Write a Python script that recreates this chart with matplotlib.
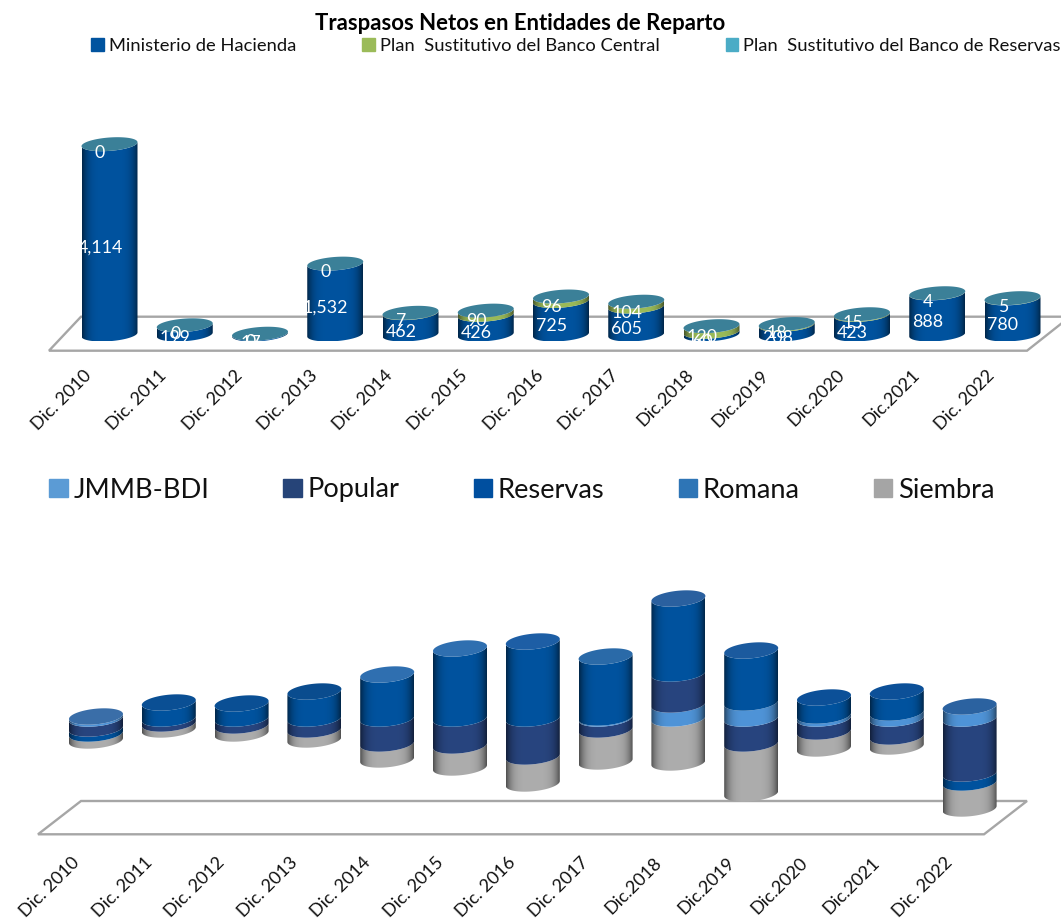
import numpy as np
import matplotlib
matplotlib.use("Agg")
import matplotlib.pyplot as plt
from matplotlib.patches import Polygon, Patch
from matplotlib.colors import to_rgb
from matplotlib.transforms import ScaledTranslation

plt.rcParams['font.family'] = ['Lato', 'DejaVu Sans']

W, H = 1061, 924

years = ["Dic. 2010", "Dic. 2011", "Dic. 2012", "Dic. 2013", "Dic. 2014", "Dic. 2015", "Dic. 2016",
         "Dic. 2017", "Dic.2018", "Dic.2019", "Dic.2020", "Dic.2021", "Dic. 2022"]

# top chart
hacienda = [4114, 199, 17, 1532, 462, 426, 725, 605, 60, 208, 423, 888, 780]
central = [0, 0, 0, 0, 7, 90, 96, 104, 120, 18, 15, 4, 5]
banreservas = [0] * 13

# bottom chart (no labels)
jmmb = [2, 0, 0, 0, 0, 0, 0, 1, 14, 16, 3, 6, 12]
popular = [-10, -5, -7, -11, -25, -27, -38, -11, 31, -25, -13, -18, -55]
reservas = [-5, 16, 15, 27, 44, 70, 77, 61, 75, 52, 18, 21, -9]
romana = [0] * 13
siembra = [-7, -6, -8, -10, -16, -22, -27, -32, -44, -50, -17, -10, -26]

C_BLUE, C_GREEN, C_TEAL = '#00539f', '#9bbb59', '#4bacc6'
C_CAP_TOP = '#3b8098'
C_JMMB, C_POP, C_RES, C_ROM, C_SIE = '#4f94d8', '#28457f', '#00539f', '#2e75b6', '#adadad'
caps_bottom = ['#3a6ea8', '#0a4f94', '#0a4f94', '#0a4c8e', '#2f6fb0', '#2f6fb0', '#1d5ea5',
               '#2a6aa8', '#2a609f', '#1b5a9e', '#0c5098', '#0c5098', '#2b62a0']


def make_axes(top_px, bottom_px, x0_px, step_px, zero_px, px_per_unit):
    ax = fig.add_axes([0, 1 - bottom_px / H, 1, (bottom_px - top_px) / H])
    ax.set_xlim(-x0_px / step_px, (W - x0_px) / step_px)
    ax.set_ylim(-(bottom_px - zero_px) / px_per_unit, (zero_px - top_px) / px_per_unit)
    ax.patch.set_alpha(0)
    for s in ax.spines.values():
        s.set_visible(False)
    ax.set_yticks([])
    ax.tick_params(axis='x', length=0)
    return ax


def floor(ax, top_px, bottom_px, pts):
    # pts in figure pixels
    fr = [(x / W, (bottom_px - y) / (bottom_px - top_px)) for x, y in pts]
    ax.add_patch(Polygon(fr, closed=True, transform=ax.transAxes, facecolor='white',
                         edgecolor='#a6a6a6', lw=1.7, zorder=1, clip_on=False))


def cylinder(ax, i, segs, cap, a_px, b_px, tilt_px, step_px, ppu, z):
    """segs: list of (y0, y1, colour) stacked from the bottom."""
    t = np.linspace(np.pi, 2 * np.pi, 60)
    ax_x = a_px / step_px
    dy_b = b_px / ppu
    dy_t = tilt_px / ppu

    def arc(y):
        xs = np.cos(t)
        return i + ax_x * xs, y + dy_b * np.sin(t) + dy_t * xs

    for y0, y1, col in segs:
        x_lo, y_lo = arc(y0)
        x_hi, y_hi = arc(y1)
        pts = np.r_[np.c_[x_lo, y_lo], np.c_[x_hi, y_hi][::-1]]
        u = np.linspace(-1, 1, 160)
        f = 1 - 0.55 * np.abs(u) ** 4.5
        rgb = np.outer(f, to_rgb(col))[None, :, :]
        ext = [i - ax_x, i + ax_x, pts[:, 1].min(), pts[:, 1].max()]
        im = ax.imshow(rgb, extent=ext, aspect='auto', origin='lower', zorder=z, interpolation='bilinear')
        im.set_clip_path(Polygon(pts, closed=True, transform=ax.transData))
    top = segs[-1][1] if segs else 0
    tt = np.linspace(0, 2 * np.pi, 100)
    ax.add_patch(Polygon(np.c_[i + ax_x * np.cos(tt), top + dy_b * np.sin(tt) + dy_t * np.cos(tt)],
                         closed=True, facecolor=cap, edgecolor='none', zorder=z + 0.1))


def stack_segments(i, series):
    pos, neg = 0, 0
    up, down = [], []
    for vals, col in series:
        v = vals[i]
        if v > 0:
            up.append((pos, pos + v, col))
            pos += v
        elif v < 0:
            down.append((neg + v, neg, col))
            neg += v
    return down[::-1] + up if down else up


def tick_labels(ax, dx_px, pad):
    ax.set_xticks(range(13))
    ax.set_xticklabels(years, rotation=45, ha='right', va='top', rotation_mode='anchor', fontsize=13,
                       color='#111111')
    ax.tick_params(axis='x', pad=pad)
    off = ScaledTranslation(dx_px / 100, 0, fig.dpi_scale_trans)
    for lab in ax.get_xticklabels():
        lab.set_transform(lab.get_transform() + off)


fig = plt.figure(figsize=(W / 100, H / 100), dpi=100)

# ---------- top ----------
T_TOP, T_BOT = 60, 356
STEP_T, PPU_T = 75.25, 0.04626
ax1 = make_axes(T_TOP, T_BOT, 109.5, STEP_T, 334.5, PPU_T)
floor(ax1, T_TOP, T_BOT, [(49, 350.7), (81, 316.7), (1070, 316.7), (1027, 350.7)])
for i in range(13):
    segs = [(0, hacienda[i], C_BLUE)]
    if central[i]:
        segs.append((hacienda[i], hacienda[i] + central[i], C_GREEN))
    cylinder(ax1, i, segs, C_CAP_TOP, 28, 6.7, 2.0, STEP_T, PPU_T, 3 + i * 0.2)
    off = ScaledTranslation(-9.5 / 100, -8.5 / 100, fig.dpi_scale_trans)
    ax1.text(i, hacienda[i] / 2, f"{hacienda[i]:,}", color='white', ha='center', va='center', fontsize=12.8,
             zorder=20, transform=ax1.transData + off, clip_on=False)
    ax1.text(i, hacienda[i] + central[i] / 2, f"{central[i]}", color='white', ha='center', va='center',
             fontsize=12.8, zorder=20, transform=ax1.transData + off, clip_on=False)
tick_labels(ax1, -26, 8)
ax1.set_xlim(-109.5 / STEP_T, (W - 109.5) / STEP_T)
ax1.set_ylim(-(T_BOT - 334.5) / PPU_T, (334.5 - T_TOP) / PPU_T)

fig.text(520 / W, 1 - 24 / H, "Traspasos Netos en Entidades de Reparto", ha='center', va='center',
         fontsize=15.9, fontweight='bold', color='black')
fig.legend(handles=[Patch(color=C_BLUE, label="Ministerio de Hacienda"),
                    Patch(color=C_GREEN, label="Plan  Sustitutivo del Banco Central"),
                    Patch(color=C_TEAL, label="Plan  Sustitutivo del Banco de Reservas")],
           ncol=3, loc='center', bbox_to_anchor=(576 / W, 1 - 46 / H), frameon=False, fontsize=13.2,
           handlelength=0.68, handleheight=0.68, handletextpad=0.28, columnspacing=3.6,
           labelcolor='#111111', borderpad=0, borderaxespad=0)

# ---------- bottom ----------
B_TOP, B_BOT = 560, 842
STEP_B, PPU_B = 72.8, 1.0
ZERO_B = 718.5
ax2 = make_axes(B_TOP, B_BOT, 96, STEP_B, ZERO_B, PPU_B)
floor(ax2, B_TOP, B_BOT, [(38, 834.3), (81, 801), (1027, 801), (984, 834.3)])
series = [(jmmb, C_JMMB), (popular, C_POP), (reservas, C_RES), (romana, C_ROM), (siembra, C_SIE)]
for i in range(13):
    cylinder(ax2, i, stack_segments(i, series), caps_bottom[i], 27, 7.8, 2.5, STEP_B, PPU_B, 3 + i * 0.2)
tick_labels(ax2, -25, 9)
ax2.set_xlim(-96 / STEP_B, (W - 96) / STEP_B)
ax2.set_ylim(-(B_BOT - ZERO_B) / PPU_B, (ZERO_B - B_TOP) / PPU_B)

fig.legend(handles=[Patch(color=c, label=n) for n, c in
                    [("JMMB-BDI", '#5b9bd5'), ("Popular", '#264478'), ("Reservas", '#004f9f'),
                     ("Romana", '#2e75b6'), ("Siembra", '#a5a5a5')]],
           ncol=5, loc='center', bbox_to_anchor=(522 / W, 1 - 490 / H), frameon=False, fontsize=19.6,
           handlelength=0.67, handleheight=0.67, handletextpad=0.22, columnspacing=2.72,
           labelcolor='#111111', borderpad=0, borderaxespad=0)

fig.savefig("out.png", dpi=100, facecolor='white')
